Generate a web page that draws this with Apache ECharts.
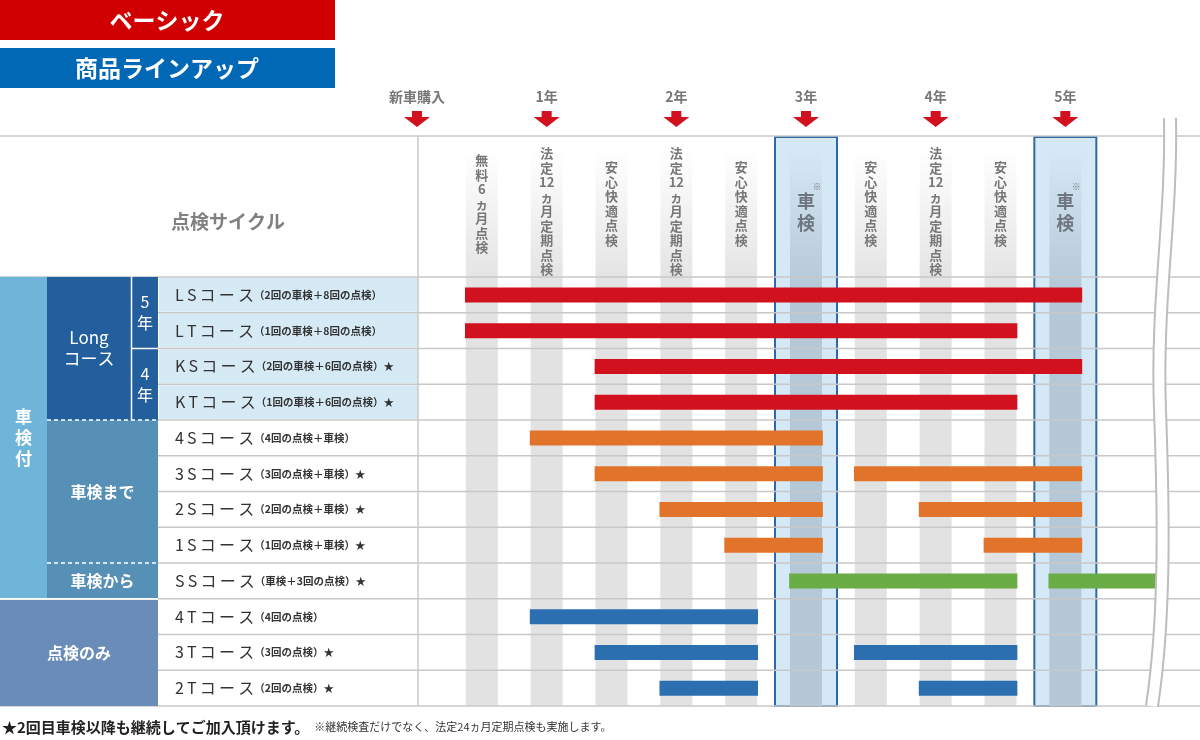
<!DOCTYPE html>
<html><head><meta charset="utf-8">
<script src="https://cdn.jsdelivr.net/npm/echarts@6/dist/echarts.min.js"></script>
<style>html,body{margin:0;padding:0;background:#fff}#c{width:1200px;height:740px}</style>
</head><body><div id="c"></div>
<script>
// 点検カラム（0..9）
const columns = ['無料6ヵ月点検', '法定12ヵ月定期点検', '安心快適点検', '法定12ヵ月定期点検', '安心快適点検',
  '車検', '安心快適点検', '法定12ヵ月定期点検', '安心快適点検', '車検'];
const shakenCols = [5, 9];
const years = [['新車購入', -1], ['1年', 1], ['2年', 3], ['3年', 5], ['4年', 7], ['5年', 9]];

const courses = ['LSコース', 'LTコース', 'KSコース', 'KTコース', '4Sコース', '3Sコース', '2Sコース', '1Sコース',
  'SSコース', '4Tコース', '3Tコース', '2Tコース'];
const notes = ['（2回の車検＋8回の点検）', '（1回の車検＋8回の点検）', '（2回の車検＋6回の点検）★', '（1回の車検＋6回の点検）★',
  '（4回の点検＋車検）', '（3回の点検＋車検）★', '（2回の点検＋車検）★', '（1回の点検＋車検）★',
  '（車検＋3回の点検）★', '（4回の点検）', '（3回の点検）★', '（2回の点検）★'];

// [行, 開始カラム, 終了カラム, 種別]
const bars = [
  [0, 0, 9, 'long'], [1, 0, 8, 'long'], [2, 2, 9, 'long'], [3, 2, 8, 'long'],
  [4, 1, 5, 'made'], [5, 2, 5, 'made'], [5, 6, 9, 'made'], [6, 3, 5, 'made'], [6, 7, 9, 'made'],
  [7, 4, 5, 'made'], [7, 8, 9, 'made'],
  [8, 5, 8, 'kara'], [8, 9, 10.25, 'kara'],
  [9, 1, 4, 'only'], [10, 2, 4, 'only'], [10, 6, 8, 'only'], [11, 3, 4, 'only'], [11, 7, 8, 'only']
];
const barColors = {long: '#d2111f', made: '#e2732b', kara: '#6aac46', only: '#2b6fb1'};

const chart = echarts.init(document.getElementById('c'));
const FONT = '"Noto Sans CJK JP", "Noto Sans", sans-serif';
const TOP = 277, ROW = 35.75, HDR = 136;

const grad = (c0, c1) => ({type: 'linear', x: 0, y: 0, x2: 0, y2: 1,
  colorStops: [{offset: 0, color: c0}, {offset: 0.25, color: c1}, {offset: 1, color: c1}]});

const colSeries = {
  type: 'custom', silent: true, clip: false, z: 1,
  data: columns.map((c, i) => [i, c]),
  renderItem: function (params, api) {
    const i = api.value(0);
    const x = api.coord([i, 0])[0];
    const bottom = TOP + ROW * 12;
    const isShaken = shakenCols.indexOf(i) >= 0;
    const kids = [];
    if (isShaken) {
      kids.push({type: 'rect', shape: {x: x - 31, y: HDR + 1, width: 62, height: bottom - HDR - 1},
        style: {fill: '#d5e8f5', stroke: '#2d6aa5', lineWidth: 2}});
    }
    kids.push({type: 'rect', shape: {x: x - 16, y: 150, width: 32, height: bottom - 150},
      style: {fill: isShaken ? grad('rgba(180,200,215,0)', 'rgba(180,200,215,1)') : grad('rgba(226,226,226,0)', 'rgba(226,226,226,1)')}});
    const label = columns[i];
    if (isShaken) {
      kids.push({type: 'text', style: {x: x, y: 212, text: '車\n検', align: 'center', verticalAlign: 'middle',
        fill: '#6f7680', font: 'bold 18px ' + FONT, lineHeight: 22}});
      kids.push({type: 'text', style: {x: x + 11, y: 187, text: '※', align: 'center', verticalAlign: 'middle',
        fill: '#777', font: '9px ' + FONT}});
    } else {
      const chars = label.replace('12', '\u0001').split('').map(ch => ch === '\u0001' ? '12' : ch);
      const lh = 14.5;
      const y0 = chars.length > 8 ? 146 : (chars.length > 6 ? 153 : 160);
      kids.push({type: 'text', style: {x: x, y: y0, text: chars.join('\n'), align: 'center', verticalAlign: 'top',
        fill: '#777', font: 'bold 13px ' + FONT, lineHeight: lh}});
    }
    return {type: 'group', children: kids};
  }
};

const barSeries = {
  type: 'custom', clip: false, z: 5,
  data: bars,
  renderItem: function (params, api) {
    const a = api.coord([api.value(1) - 0.26, api.value(0)]);
    const b = api.coord([api.value(2) + 0.26, api.value(0)]);
    return {type: 'rect', shape: {x: a[0], y: a[1] - 7.5, width: b[0] - a[0], height: 15},
      style: {fill: barColors[bars[params.dataIndex][3]]}};
  }
};

const yearSeries = {
  type: 'custom', clip: false, silent: true, z: 4,
  data: years.map(y => [y[1], y[0]]),
  renderItem: function (params, api) {
    const x = api.coord([api.value(0), 0])[0];
    return {type: 'group', children: [
      {type: 'text', style: {x: x, y: 97, text: years[params.dataIndex][0], align: 'center', verticalAlign: 'middle',
        fill: '#777', font: 'bold 14px ' + FONT}},
      {type: 'polygon', shape: {points: [[x - 5, 111], [x + 5, 111], [x + 5, 117], [x + 13, 117], [x, 127], [x - 13, 117], [x - 5, 117]]},
        style: {fill: '#d2111f'}}
    ]};
  }
};

// 表の左側
const g = [];
const hline = (y, x1, x2) => g.push({type: 'line', shape: {x1: x1, y1: y, x2: x2, y2: y}, style: {stroke: '#c8c8c8', lineWidth: 1.5}, z: 2});
g.push({type: 'rect', shape: {x: 0, y: 0, width: 335, height: 40}, style: {fill: '#d10000'}});
g.push({type: 'text', style: {x: 167, y: 20, text: 'ベーシック', align: 'center', verticalAlign: 'middle', fill: '#fff', font: 'bold 23px ' + FONT}});
g.push({type: 'rect', shape: {x: 0, y: 48, width: 335, height: 40}, style: {fill: '#0068b5'}});
g.push({type: 'text', style: {x: 167, y: 68, text: '商品ラインアップ', align: 'center', verticalAlign: 'middle', fill: '#fff', font: 'bold 23px ' + FONT}});
g.push({type: 'text', style: {x: 228, y: 222, text: '点検サイクル', align: 'center', verticalAlign: 'middle', fill: '#808080', font: 'bold 19px ' + FONT}});
hline(HDR, 0, 1200);
for (let r = 0; r <= 12; r++) hline(TOP + ROW * r, r === 0 || r === 12 ? 0 : 158, 1200);
g.push({type: 'line', shape: {x1: 418, y1: HDR, x2: 418, y2: TOP + ROW * 12}, style: {stroke: '#c8c8c8', lineWidth: 1.5}, z: 2});
courses.forEach((c, r) => {
  const y = TOP + ROW * r;
  g.push({type: 'rect', shape: {x: 159, y: y + 1, width: 259, height: ROW - 2}, style: {fill: r < 4 ? '#d6eaf6' : '#fff'}, z: 1});
  g.push({type: 'text', z: 3, style: {x: 175, y: y + ROW / 2, verticalAlign: 'middle',
    text: '{m|' + c.split('').join('\u2009') + '}{s|' + notes[r] + '}',
    rich: {m: {font: '16px ' + FONT, fill: '#333'}, s: {font: 'bold 10.5px ' + FONT, fill: '#333'}}}});
});
const cell = (x, y, w, h, fill, text, font) => {
  g.push({type: 'rect', shape: {x: x, y: y, width: w, height: h}, style: {fill: fill}, z: 3});
  if (text) g.push({type: 'text', z: 4, style: {x: x + w / 2, y: y + h / 2, text: text, align: 'center', verticalAlign: 'middle', fill: '#fff', font: font || 'bold 16px ' + FONT, lineHeight: 21}});
};
cell(0, TOP, 47, ROW * 9, '#6fb5da', '車\n検\n付', 'bold 17px ' + FONT);
cell(47, TOP, 84, ROW * 4, '#235e9d', 'Long\nコース', '17px ' + FONT);
cell(132, TOP, 26, ROW * 2, '#235e9d', '5\n年', '16px ' + FONT);
cell(132, TOP + ROW * 2, 26, ROW * 2, '#235e9d', '4\n年', '16px ' + FONT);
cell(47, TOP + ROW * 4, 111, ROW * 4, '#5690b6', '車検まで');
cell(47, TOP + ROW * 8, 111, ROW, '#5690b6', '車検から');
cell(0, TOP + ROW * 9 + 1, 158, ROW * 3 - 1, '#6a8cb8', '点検のみ');
const wline = (x1, y1, x2, y2, dash) => g.push({type: 'line', z: 5, shape: {x1: x1, y1: y1, x2: x2, y2: y2}, style: {stroke: '#fff', lineWidth: 1.5, lineDash: dash ? [4, 3] : null}});
wline(47, TOP + ROW * 4, 158, TOP + ROW * 4, true);
wline(47, TOP + ROW * 8, 158, TOP + ROW * 8, true);
wline(131.5, TOP, 131.5, TOP + ROW * 4);
wline(132, TOP + ROW * 2, 158, TOP + ROW * 2);
wline(0, TOP + ROW * 9, 158, TOP + ROW * 9);
// 省略の波線
const waves = [
  {x1: 1170, y1: 118, cpx1: 1172, cpy1: 220, cpx2: 1156, cpy2: 300, x2: 1160, y2: 410},
  {x1: 1160, y1: 410, cpx1: 1164, cpy1: 520, cpx2: 1165, cpy2: 620, x2: 1152, y2: 706}
];
waves.forEach(s => {
  g.push({type: 'bezierCurve', z: 10, shape: s, style: {stroke: '#bdbdbd', lineWidth: 14, fill: null}});
  g.push({type: 'bezierCurve', z: 11, shape: s, style: {stroke: '#fff', lineWidth: 10, fill: null}});
});
g.push({type: 'text', style: {x: 2, y: 727, verticalAlign: 'middle',
  text: '{a|★2回目車検以降も継続してご加入頂けます。}{b|  ※継続検査だけでなく、法定24ヵ月定期点検も実施します。}',
  rich: {a: {font: 'bold 15px ' + FONT, fill: '#222'}, b: {font: '11px ' + FONT, fill: '#333'}}}});

chart.setOption({
  animation: false,
  grid: {left: 417, right: 5, top: TOP, bottom: 740 - TOP - ROW * 12},
  xAxis: {type: 'value', min: -1, max: 11, show: false},
  yAxis: {type: 'category', data: courses, inverse: true, show: false},
  graphic: g,
  series: [colSeries, yearSeries, barSeries]
});
</script></body></html>
